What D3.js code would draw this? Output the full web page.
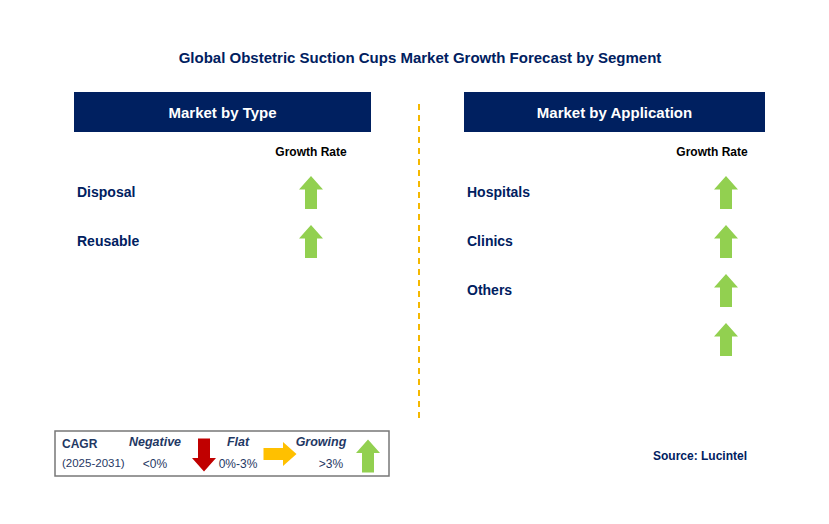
<!DOCTYPE html>
<html><head><meta charset="utf-8">
<script src="https://cdn.jsdelivr.net/npm/d3@7"></script>
<style>body{margin:0;background:#fff}text{font-family:"Liberation Sans",Arial,sans-serif}</style>
</head><body><svg width="829" height="524"></svg>
<script>
const typeLabels = ['Disposal', 'Reusable'];
const typeGrowth = ['up', 'up'];
const appLabels = ['Hospitals', 'Clinics', 'Others', ''];
const appGrowth = ['up', 'up', 'up', 'up'];
const legendItems = [
	{name: 'Negative', range: '<0%', dir: 'down'},
	{name: 'Flat', range: '0%-3%', dir: 'right'},
	{name: 'Growing', range: '>3%', dir: 'up'}
];

const svg = d3.select('svg');
const navy = '#002060';
const green = '#92d050';

svg.append('text').attr('x', 420).attr('y', 63).attr('text-anchor', 'middle')
	.attr('font-size', 15).attr('font-weight', 'bold').attr('fill', navy)
	.text('Global Obstetric Suction Cups Market  Growth Forecast by Segment');

svg.append('line').attr('x1', 419).attr('x2', 419).attr('y1', 104).attr('y2', 418)
	.attr('stroke', '#f5b800').attr('stroke-width', 2).attr('stroke-dasharray', '6,5');

function arrow(g, dir, cx, cy, color) {
	// up arrow path, 24 wide x 33 tall, rotated per dir
	const p = 'M0,-16.5 L12,-3 L6,-3 L6,16.5 L-6,16.5 L-6,-3 L-12,-3 Z';
	const rot = dir == 'up' ? 0 : dir == 'down' ? 180 : 90;
	g.append('path').attr('d', p).attr('fill', color)
		.attr('transform', `translate(${cx},${cy}) rotate(${rot})`);
}

function panel(x0, w, title, labels, growth, arrowX, grX) {
	const g = svg.append('g');
	g.append('rect').attr('x', x0).attr('y', 92).attr('width', w).attr('height', 40).attr('fill', navy);
	g.append('text').attr('x', x0 + w / 2).attr('y', 118).attr('text-anchor', 'middle')
		.attr('fill', '#fff').attr('font-size', 15).attr('font-weight', 'bold').text(title);
	g.append('text').attr('x', grX).attr('y', 156).attr('text-anchor', 'middle')
		.attr('font-size', 12).attr('font-weight', 'bold').text('Growth Rate');
	const y = d3.scaleBand().domain(d3.range(growth.length)).range([167, 167 + 49 * growth.length]);
	labels.forEach((l, i) => {
		g.append('text').attr('x', x0 + 3).attr('y', y(i) + y.bandwidth() / 2 + 5)
			.attr('font-size', 14).attr('font-weight', 'bold').attr('fill', navy).text(l);
	});
	growth.forEach((d, i) => arrow(g, d, arrowX, y(i) + y.bandwidth() / 2 + 1, green));
}
panel(74, 297, 'Market by Type', typeLabels, typeGrowth, 311, 311);
panel(464, 301, 'Market by Application', appLabels, appGrowth, 726, 712);

// legend
const lg = svg.append('g');
lg.append('rect').attr('x', 55).attr('y', 431).attr('width', 334).attr('height', 45)
	.attr('fill', '#fff').attr('stroke', '#777').attr('stroke-width', 1.5);
lg.append('text').attr('x', 62).attr('y', 448).attr('font-size', 12).attr('font-weight', 'bold').attr('fill', '#1f3864').text('CAGR');
lg.append('text').attr('x', 62).attr('y', 467).attr('font-size', 11.5).attr('fill', '#1f3864').text('(2025-2031)');
const lx = d3.scalePoint().domain(legendItems.map(d => d.name)).range([155, 321]);
const colors = {down: '#c00000', right: '#ffc000', up: green};
legendItems.forEach(d => {
	lg.append('text').attr('x', lx(d.name)).attr('y', 446).attr('text-anchor', 'middle').attr('font-size', 12.5)
		.attr('font-weight', 'bold').attr('font-style', 'italic').attr('fill', '#1f3864').text(d.name);
	lg.append('text').attr('x', lx(d.name) + (d.dir == 'up' ? 10 : 0)).attr('y', 468).attr('text-anchor', 'middle').attr('font-size', 12)
		.attr('fill', '#1f3864').text(d.range);
});
arrow(lg, 'down', 204, 455, colors.down);
arrow(lg, 'right', 280, 454, colors.right);
arrow(lg, 'up', 368, 456, colors.up);

svg.append('text').attr('x', 700).attr('y', 460).attr('text-anchor', 'middle').attr('font-size', 12)
	.attr('font-weight', 'bold').attr('fill', navy).text('Source: Lucintel');
</script></body></html>
